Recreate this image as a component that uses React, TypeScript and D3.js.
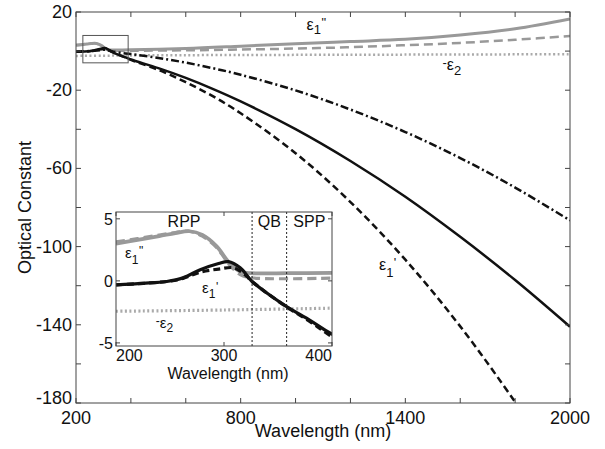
import React from 'react';
import * as d3 from 'd3';

type Pt = [number, number];

// wavelength (nm) -> optical constant
const eps1ImSolid: Pt[] = [
  [200, 3.0], [220, 3.3], [240, 3.6], [255, 3.85], [268, 4.0], [280, 3.7], [293, 2.8],
  [305, 1.45], [315, 0.75], [325, 0.62], [360, 0.62], [400, 0.65], [600, 1.3], [800, 2.5],
  [1000, 3.8], [1200, 4.9], [1400, 6.0], [1600, 8.2], [1800, 11.4], [2000, 16.4],
];
const eps1ImDash: Pt[] = [
  [200, 3.15], [220, 3.4], [240, 3.7], [255, 3.9], [268, 4.0], [280, 3.6], [293, 2.7],
  [305, 1.3], [315, 0.5], [325, 0.25], [400, 0.22], [600, 0.4], [800, 0.8], [1000, 1.3],
  [1200, 2.0], [1400, 3.0], [1600, 4.2], [1800, 5.8], [2000, 7.7],
];
const negEps2: Pt[] = [
  [200, -2.45], [300, -2.35], [400, -2.2], [800, -2.0], [1400, -1.8], [2000, -1.6],
];
const eps1ReSolid: Pt[] = [
  [200, -0.32], [225, -0.2], [247, -0.05], [262, 0.24], [278, 0.9], [295, 1.4], [304, 1.55],
  [315, 1.05], [326, -0.05], [340, -1.0], [358, -2.07], [380, -3.2], [400, -4.3],
  [500, -8.7], [600, -13.7], [700, -19.4], [800, -25.7], [1000, -39.9], [1200, -56.2],
  [1400, -74.5], [1600, -95], [1800, -117.1], [2000, -141],
];
const eps1ReDash: Pt[] = [
  [200, -0.32], [247, -0.05], [262, 0.2], [278, 0.7], [295, 0.95], [309, 1.05], [318, 0.6],
  [326, -0.05], [340, -1.0], [358, -2.1], [380, -3.3], [400, -4.5], [500, -9.6], [600, -15.9],
  [700, -23.2], [800, -31.8], [1000, -52.2], [1200, -77.2], [1400, -106.7], [1600, -140.8],
  [1800, -179.5], [1900, -200.5],
];
const eps1ReDashDot: Pt[] = [
  [200, -0.32], [260, 0.1], [290, 0.5], [310, 0.7], [330, 0.0], [360, -0.8], [400, -1.5],
  [500, -3.5], [600, -5.9], [700, -8.8], [800, -12.1], [1000, -20.1], [1200, -29.9],
  [1400, -41.4], [1600, -54.7], [1800, -69.8], [2000, -86.6],
];

const mainXTicks = [200, 400, 600, 800, 1000, 1200, 1400, 1600, 1800, 2000];
const mainXLabels = [200, 800, 1400, 2000];
const mainYTicks = [20, 0, -20, -40, -60, -80, -100, -120, -140, -160, -180];
const mainYLabels = [20, -20, -60, -100, -140, -180];
const insetXTicks = [200, 300, 400];
const insetYTicks = [5, 0, -5];
const regionEdges = [200, 326, 358, 400];
const regionNames = ['RPP', 'QB', 'SPP'];
const zoomBoxX = [225, 390];
const zoomBoxY = [-6, 8];

const FONT = '"Liberation Sans", Arial, Helvetica, sans-serif';
const GRAY = '#999999';
const AXIS = '#444444';

const lines = [
  { data: eps1ImSolid, color: GRAY, w: 3, dash: undefined },
  { data: eps1ImDash, color: GRAY, w: 2.5, dash: '9,5' },
  { data: negEps2, color: '#aaaaaa', w: 2.5, dash: '2,2.5' },
  { data: eps1ReDashDot, color: '#111', w: 2.5, dash: '8,3,2,3' },
  { data: eps1ReDash, color: '#111', w: 2.5, dash: '7,4' },
  { data: eps1ReSolid, color: '#111', w: 2.5, dash: undefined },
];

// epsilon symbol with subscript and raised prime marks, one text element
function Eps({ x, y, size, sub, sup, minus, subDy, supDy }: any) {
  const small = Math.round(size * 0.8);
  return (
    <text x={minus ? x - small * 0.35 : x} y={y} fontFamily={FONT} fill="#111" fontSize={size}>
      {minus && <tspan fontSize={small} dy={-3}>-</tspan>}
      <tspan dy={minus ? 3 : 0}>ε</tspan>
      <tspan fontSize={small} dy={subDy}>{sub}</tspan>
      {sup && <tspan fontSize={small} dx={0.5} dy={supDy - subDy}>{sup}</tspan>}
    </text>
  );
}

export default function App() {
  const m = { l: 76, t: 12, r: 570, b: 403 };
  const x = d3.scaleLinear().domain([200, 2000]).range([m.l, m.r]);
  const y = d3.scaleLinear().domain([-180, 20]).range([m.b, m.t]);
  const line = d3.line<Pt>().x(d => x(d[0])).y(d => y(d[1])).curve(d3.curveCatmullRom.alpha(0.5));

  const ins = { l: 116, t: 212, r: 332, b: 346 };
  const ix = d3.scaleLinear().domain([200, 400]).range([ins.l, ins.r]);
  const iy = d3.scaleLinear().domain([-5.25, 5.55]).range([ins.b, ins.t]);
  const iline = d3.line<Pt>().x(d => ix(d[0])).y(d => iy(d[1])).curve(d3.curveCatmullRom.alpha(0.5));

  const tk = 5;
  const itk = 4;

  return (
    <svg width={605} height={449} style={{ position: 'absolute', left: 0, top: 0, background: '#fff' }}>
      <defs>
        <clipPath id="mainClip"><rect x={m.l} y={m.t} width={m.r - m.l} height={m.b - m.t} /></clipPath>
        <clipPath id="insClip"><rect x={ins.l} y={ins.t} width={ins.r - ins.l} height={ins.b - ins.t} /></clipPath>
      </defs>
      <rect x={0} y={0} width={605} height={449} fill="#fff" />

      {/* main curves */}
      <g clipPath="url(#mainClip)">
        {lines.map((s, i) => (
          <path key={i} d={line(s.data) || ''} fill="none" stroke={s.color} strokeWidth={s.w}
            strokeDasharray={s.dash} />
        ))}
      </g>

      {/* zoom region box */}
      <rect x={x(zoomBoxX[0])} y={y(zoomBoxY[1])} width={x(zoomBoxX[1]) - x(zoomBoxX[0])}
        height={y(zoomBoxY[0]) - y(zoomBoxY[1])} fill="none" stroke="#555" strokeWidth={1} />

      {/* main frame and ticks */}
      <rect x={m.l} y={m.t} width={m.r - m.l} height={m.b - m.t} fill="none" stroke={AXIS} strokeWidth={1} />
      {mainXTicks.map(v => (
        <g key={'xt' + v} stroke={AXIS}>
          <line x1={x(v)} x2={x(v)} y1={m.b} y2={m.b - tk} />
          <line x1={x(v)} x2={x(v)} y1={m.t} y2={m.t + tk} />
        </g>
      ))}
      {mainYTicks.map(v => (
        <g key={'yt' + v} stroke={AXIS}>
          <line x1={m.l} x2={m.l + tk} y1={y(v)} y2={y(v)} />
          <line x1={m.r} x2={m.r - tk} y1={y(v)} y2={y(v)} />
        </g>
      ))}
      <g fontFamily={FONT} fontSize={18} fill="#111">
        {mainXLabels.map(v => (
          <text key={'xl' + v} x={x(v)} y={m.b + 21} textAnchor="middle">{v}</text>
        ))}
        {mainYLabels.map((v, i) => (
          <text key={'yl' + v} x={m.l - 4} y={y(v) + (i === mainYLabels.length - 1 ? 1 : 6)}
            textAnchor="end">{v}</text>
        ))}
        <text x={(m.l + m.r) / 2} y={437} textAnchor="middle">Wavelength (nm)</text>
        <text transform={`translate(31,${(m.t + m.b) / 2}) rotate(-90)`} textAnchor="middle">Optical Constant</text>
      </g>

      {/* main annotations */}
      <Eps x={x(1040)} y={y(10.8)} size={16} sub="1" sup={'"'} subDy={4} supDy={-3} />
      <Eps x={x(1552)} y={y(-9.7)} size={16} sub="2" minus subDy={5} />
      <Eps x={x(1304)} y={y(-112)} size={16} sub="1" sup="'" subDy={7} supDy={-3} />

      {/* inset */}
      <rect x={ins.l} y={ins.t} width={ins.r - ins.l} height={ins.b - ins.t} fill="#fff" />
      <g clipPath="url(#insClip)">
        {lines.filter(s => s.data !== eps1ReDashDot).map((s, i) => (
          <path key={i} d={iline(s.data.filter(d => d[0] <= 500)) || ''} fill="none" stroke={s.color}
            strokeWidth={s.w + 0.7} strokeDasharray={s.dash} />
        ))}
        {regionEdges.slice(1, 3).map(v => (
          <line key={'re' + v} x1={ix(v)} x2={ix(v)} y1={ins.t} y2={ins.b} stroke="#222"
            strokeWidth={1} strokeDasharray="2,2" />
        ))}
      </g>
      <rect x={ins.l} y={ins.t} width={ins.r - ins.l} height={ins.b - ins.t} fill="none" stroke={AXIS} strokeWidth={1} />
      {insetXTicks.map(v => (
        <g key={'ixt' + v} stroke={AXIS}>
          <line x1={ix(v)} x2={ix(v)} y1={ins.b} y2={ins.b - itk} />
          <line x1={ix(v)} x2={ix(v)} y1={ins.t} y2={ins.t + itk} />
        </g>
      ))}
      {insetYTicks.map(v => (
        <g key={'iyt' + v} stroke={AXIS}>
          <line x1={ins.l} x2={ins.l + itk} y1={iy(v)} y2={iy(v)} />
          <line x1={ins.r} x2={ins.r - itk} y1={iy(v)} y2={iy(v)} />
        </g>
      ))}
      <g fontFamily={FONT} fontSize={16} fill="#111">
        {insetXTicks.map((v, i) => (
          <text key={'ixl' + v} x={ix(v)} y={ins.b + 15}
            textAnchor={i === 0 ? 'start' : i === insetXTicks.length - 1 ? 'end' : 'middle'}>{v}</text>
        ))}
        {insetYTicks.map(v => (
          <text key={'iyl' + v} x={ins.l - 3} y={iy(v) + 6} textAnchor="end">{v}</text>
        ))}
        <text x={(ins.l + ins.r) / 2 + 4} y={379} textAnchor="middle">Wavelength (nm)</text>
        {regionNames.map((n, i) => (
          <text key={n} x={ix((regionEdges[i] + regionEdges[i + 1]) / 2)} y={227} textAnchor="middle">{n}</text>
        ))}
      </g>
      <Eps x={125} y={258} size={15} sub="1" sup={'"'} subDy={6} supDy={-3} />
      <Eps x={202} y={293} size={15} sub="1" sup="'" subDy={5} supDy={-2} />
      <Eps x={160} y={328} size={15} sub="2" minus subDy={4} />
    </svg>
  );
}
